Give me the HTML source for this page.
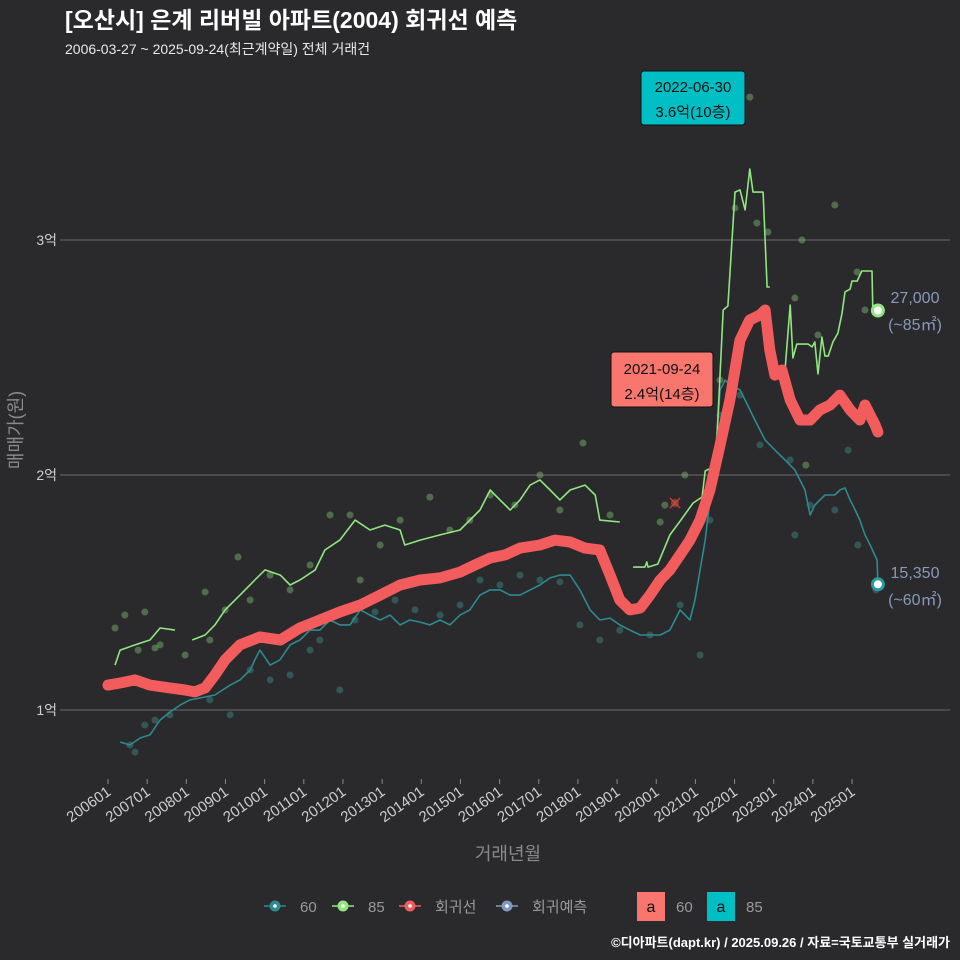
<!DOCTYPE html>
<html><head><meta charset="utf-8">
<style>
html,body{margin:0;padding:0;background:#2a2a2c;}
svg{display:block;font-family:"Liberation Sans","Noto Sans CJK KR",sans-serif;}
</style></head>
<body>
<svg id="chart" width="960" height="960" viewBox="0 0 960 960" xmlns="http://www.w3.org/2000/svg">
<rect x="0" y="0" width="960" height="960" fill="#2a2a2c"/>
<text x="65" y="28" fill="#ffffff" font-size="23" font-weight="bold">[오산시] 은계 리버빌 아파트(2004) 회귀선 예측</text>
<text x="65" y="54" fill="#e8e8e8" font-size="14">2006-03-27 ~ 2025-09-24(최근계약일) 전체 거래건</text>
<g id="grid"></g>
<g id="yaxis"></g>
<g id="xaxis"></g>
<g id="points"></g>
<g id="lines"></g>
<g id="annot"></g>
<text transform="translate(22,430) rotate(-90)" text-anchor="middle" fill="#8a8a8a" font-size="18">매매가(원)</text>
<text x="508" y="860" text-anchor="middle" fill="#8a8a8a" font-size="18">거래년월</text>
<g id="legend"></g>
<text x="950" y="947" text-anchor="end" fill="#ffffff" font-size="13" font-weight="bold">©디아파트(dapt.kr) / 2025.09.26 / 자료=국토교통부 실거래가</text>
</svg>
<script>
const yTicks=[10000,20000,30000];
const yTickLabels=["1억","2억","3억"];
const xTickYears=[2006,2007,2008,2009,2010,2011,2012,2013,2014,2015,2016,2017,2018,2019,2020,2021,2022,2023,2024,2025];
const xTickLabels=["200601","200701","200801","200901","201001","201101","201201","201301","201401","201501","201601","201701","201801","201901","202001","202101","202201","202301","202401","202501"];

const regDates=[2006.00,2006.31,2006.69,2007.07,2007.58,2007.97,2008.22,2008.48,2008.73,2008.99,2009.37,2009.88,2010.40,2010.90,2011.41,2011.92,2012.44,2012.95,2013.46,2013.97,2014.48,2014.99,2015.37,2015.76,2016.14,2016.52,2017.03,2017.41,2017.80,2018.18,2018.56,2018.82,2019.07,2019.33,2019.59,2019.84,2020.10,2020.35,2020.61,2020.86,2021.12,2021.37,2021.63,2021.88,2022.14,2022.39,2022.65,2022.78,2022.90,2023.03,2023.21,2023.42,2023.67,2023.93,2024.18,2024.44,2024.69,2024.95,2025.20,2025.33,2025.59,2025.66];
const regValues=[11060,11150,11280,11060,10940,10850,10770,10940,11490,12130,12770,13110,12980,13490,13830,14170,14470,14890,15320,15530,15620,15870,16170,16470,16600,16890,17020,17230,17150,16890,16810,15750,14680,14260,14340,14890,15530,15960,16600,17230,18090,19360,21280,23190,25740,26600,26810,27020,25320,24250,24470,23190,22340,22340,22770,22980,23400,22770,22340,22980,22130,21830];

const s85Dates=[2006.18,2006.31,2006.69,2007.07,2007.33,2007.71,null,2008.15,2008.48,2008.73,2008.99,2009.37,2009.75,2010.01,2010.40,2010.65,2010.90,2011.29,2011.54,2011.92,2012.31,2012.69,2013.07,2013.46,2013.58,2013.97,2014.48,2014.99,2015.50,2015.76,2016.01,2016.27,2016.52,2016.78,2017.03,2017.29,2017.54,2017.80,2018.18,2018.44,2018.56,2019.07,null,2019.41,2019.71,2019.76,2019.79,2020.04,2020.35,2020.61,2020.94,2021.17,2021.25,2021.45,2021.55,2021.71,2021.83,2022.01,2022.14,2022.27,2022.39,2022.47,2022.73,2022.83,2022.90,null,2023.29,2023.42,2023.49,2023.59,2023.88,2023.98,2024.05,2024.13,2024.23,2024.31,2024.39,2024.51,2024.64,2024.74,2024.82,2024.95,2025.00,2025.13,2025.25,2025.51,2025.53,2025.66];
const s85Values=[11910,12550,12770,12980,13490,13400,null,12980,13190,13620,14260,14890,15530,15960,15740,15320,15530,15960,16810,17230,18080,17660,17870,17660,17020,17230,17450,17660,18510,19360,18940,18510,18940,19570,19790,19360,18940,19360,19570,19150,18080,18000,null,16080,16080,16300,16080,16210,17450,18040,18810,19060,20170,20340,21530,27020,27190,32040,32130,31280,33020,32040,32040,28000,28000,null,24510,27230,24980,25570,25570,25450,25660,24300,25870,25060,25060,25660,26040,26850,27790,27910,28250,28250,28680,28680,27020,27000];

const s60Dates=[2006.31,2006.56,2006.82,2007.07,2007.33,2007.58,2007.84,2008.09,2008.35,2008.73,2009.12,2009.37,2009.63,2009.75,2009.88,2010.14,2010.39,2010.65,2010.90,2011.16,2011.41,2011.67,2011.92,2012.18,2012.44,2012.69,2012.95,2013.20,2013.46,2013.71,2013.97,2014.22,2014.48,2014.73,2014.99,2015.24,2015.50,2015.76,2016.01,2016.27,2016.52,2016.78,2017.03,2017.29,2017.54,2017.80,2018.05,2018.31,2018.56,2018.82,2019.07,2019.33,2019.59,2019.84,2020.10,2020.35,2020.61,2020.86,2020.99,2021.12,2021.25,2021.37,2021.50,2021.63,2021.76,2021.88,2022.14,2022.27,2022.52,2022.78,2023.03,2023.29,2023.54,2023.80,2023.93,2024.05,2024.31,2024.56,2024.69,2024.82,2024.95,2025.08,2025.20,2025.33,2025.46,2025.64,2025.66];
const s60Values=[8640,8510,8810,8940,9570,9910,10210,10430,10510,10640,11060,11280,11700,12130,12550,11910,12130,12770,12980,13400,13400,13830,13620,13620,14260,14040,13830,14040,13620,13830,13740,13620,13830,13620,14040,14260,14890,15110,15110,14890,14890,15110,15320,15620,15740,15740,15110,14260,13830,13910,13620,13400,13190,13190,13190,13400,14260,13830,14680,15960,17230,18940,20640,23620,24040,23830,23620,23190,22340,21490,21060,20640,20210,19360,18300,18720,19150,19150,19360,19450,18940,18510,18080,17450,17020,16380,15350];

const pt85Dates=[2006.18,2006.43,2006.77,2006.94,2007.20,2007.33,2007.97,2008.48,2008.60,2008.99,2009.32,2009.63,2010.14,2010.65,2011.16,2011.67,2012.18,2012.44,2012.95,2013.46,2014.22,2014.73,2015.24,2015.76,2016.39,2017.03,2017.54,2018.13,2018.82,2020.10,2020.22,2020.73,2021.63,2022.01,2022.39,2022.57,2022.85,2023.54,2023.72,2023.82,2024.13,2024.56,2025.13,2025.33];
const pt85Values=[13490,14040,12550,14170,12640,12770,12340,15020,12980,14260,16510,14680,15740,15110,16170,18300,18300,15530,17020,18080,19060,17660,18080,19150,18720,20000,18510,21360,18300,18000,18720,20000,24040,31360,36080,30720,30340,27530,30000,20420,25960,31490,28640,27020];
const pt60Dates=[2006.56,2006.69,2006.94,2007.20,2007.58,2008.09,2008.60,2009.12,2009.63,2010.14,2010.65,2011.16,2011.41,2011.92,2012.31,2012.82,2013.33,2013.84,2014.48,2014.99,2015.50,2016.01,2016.52,2017.03,2017.54,2018.05,2018.56,2019.07,2019.84,2020.61,2021.12,2021.37,2021.63,2022.14,2022.65,2023.42,2023.54,2023.93,2024.56,2024.90,2025.15,2025.61];
const pt60Values=[8510,8210,9360,9570,9790,10850,10430,9790,11700,11280,11490,12550,12980,10850,13830,14170,14680,14260,14040,14470,15530,15320,15740,15530,15450,13620,12980,13400,13190,14470,12340,18080,22550,23400,21280,20640,17450,18720,18510,21060,17020,15110];

const NS='http://www.w3.org/2000/svg';
function X(t){return 108+(t-2006)*39.16;}
function Y(v){return 710-(v-10000)*0.0235;}
function mk(tag,attrs,parent){const e=document.createElementNS(NS,tag);for(const k in attrs)e.setAttribute(k,attrs[k]);parent.appendChild(e);return e;}

const grid=document.getElementById('grid'),yaxis=document.getElementById('yaxis'),xaxis=document.getElementById('xaxis');
yTicks.forEach((v,i)=>{
  const l=mk('line',{x1:65,x2:950,y1:Y(v),y2:Y(v),stroke:'#6a6a6a','stroke-width':1},grid);
  
  
  const t=mk('text',{x:57,y:Y(v)+5,'text-anchor':'end',fill:'#cfcfcf','font-size':14},yaxis);
  t.textContent=yTickLabels[i];
  
  
  const tk=mk('line',{x1:60,x2:65,y1:Y(v),y2:Y(v),stroke:'#6a6a6a'},yaxis);
  
  
});
xTickYears.forEach((yr,i)=>{
  const x=X(yr);
  const tk=mk('line',{x1:x,x2:x,y1:779,y2:784,stroke:'#8a8a8a'},xaxis);
  
  
  const t=mk('text',{x:x+4,y:794,'text-anchor':'end',fill:'#cfcfcf','font-size':15,transform:`rotate(-35 ${x+4} 794)`},xaxis);
  t.textContent=xTickLabels[i];
  
  
});

const pts=document.getElementById('points');
pt85Dates.forEach((d,i)=>{
  const c=mk('circle',{cx:X(d),cy:Y(pt85Values[i]),r:3.5,fill:'#7fbf70','fill-opacity':0.45},pts);
  
  
});
pt60Dates.forEach((d,i)=>{
  const c=mk('circle',{cx:X(d),cy:Y(pt60Values[i]),r:3.5,fill:'#3c8e8a','fill-opacity':0.45},pts);
  
  
});

function pathFrom(dates,vals){
  let d='',pen=false;
  dates.forEach((t,i)=>{
    if(t===null||vals[i]===null){pen=false;return;}
    d+=(pen?'L':'M')+X(t).toFixed(1)+','+Y(vals[i]).toFixed(1);pen=true;
  });
  return d;
}
const lines=document.getElementById('lines');
const l60=mk('path',{d:pathFrom(s60Dates,s60Values),fill:'none',stroke:'#2c8a90','stroke-width':1.6,'stroke-linejoin':'round'},lines);


const l85=mk('path',{d:pathFrom(s85Dates,s85Values),fill:'none',stroke:'#90e680','stroke-width':1.6,'stroke-linejoin':'round'},lines);


const lreg=mk('path',{d:pathFrom(regDates,regValues),fill:'none',stroke:'#f25c5c','stroke-width':11,'stroke-linejoin':'round','stroke-linecap':'round'},lines);



const an=document.getElementById('annot');
const e85=mk('circle',{cx:X(2025.66),cy:Y(27000),r:5.5,fill:'#ffffff',stroke:'#90e680','stroke-width':3},an);


const e60=mk('circle',{cx:X(2025.66),cy:Y(15350),r:5.5,fill:'#ffffff',stroke:'#2c9a9e','stroke-width':3},an);


</script>
<script>
(function(){
const an=document.getElementById('annot');
const NS='http://www.w3.org/2000/svg';
function mk(tag,attrs,parent){const e=document.createElementNS(NS,tag);for(const k in attrs)e.setAttribute(k,attrs[k]);parent.appendChild(e);return e;}
function txt(x,y,s,attrs,name){const t=mk('text',Object.assign({x:x,y:y},attrs),an);t.textContent=s;return t;}
txt(915,303,'27,000',{fill:'#8899bb','font-size':16,'text-anchor':'middle'},'end-label-85-price');
txt(915,330,'(~85㎡)',{fill:'#8899bb','font-size':16,'text-anchor':'middle'},'end-label-85-area');
txt(915,578,'15,350',{fill:'#8899bb','font-size':16,'text-anchor':'middle'},'end-label-60-price');
txt(915,605,'(~60㎡)',{fill:'#8899bb','font-size':16,'text-anchor':'middle'},'end-label-60-area');
const xm=mk('path',{d:'M670,498L680,508M680,498L670,508',stroke:'#e0302a','stroke-width':1.5},an);


const c=mk('circle',{cx:675,cy:503,r:4,fill:'#c45a4a','fill-opacity':0.5},an);


const b1=mk('rect',{x:611,y:352,width:102,height:55,rx:3,fill:'#f8766d',stroke:'#111','stroke-width':1},an);


txt(662,374,'2021-09-24',{fill:'#111','font-size':15,'text-anchor':'middle'},'annotation-2021-date');
txt(662,399,'2.4억(14층)',{fill:'#111','font-size':15,'text-anchor':'middle'},'annotation-2021-price');
const b2=mk('rect',{x:641,y:71,width:104,height:54,rx:3,fill:'#00bfc4',stroke:'#111','stroke-width':1},an);


txt(693,92,'2022-06-30',{fill:'#111','font-size':15,'text-anchor':'middle'},'annotation-2022-date');
txt(693,117,'3.6억(10층)',{fill:'#111','font-size':15,'text-anchor':'middle'},'annotation-2022-price');

const lg=document.getElementById('legend');
const items=[[275,'#2c8a90','60'],[343,'#90e680','85'],[410,'#f25c5c','회귀선'],[507,'#7f99c0','회귀예측']];
items.forEach(it=>{
  const g=mk('g',{},lg);
  
  
  mk('line',{x1:it[0]-11,x2:it[0]+11,y1:906,y2:906,stroke:it[1],'stroke-width':1.5},g);
  mk('circle',{cx:it[0],cy:906,r:5.5,fill:it[1]},g);
  mk('circle',{cx:it[0],cy:906,r:1.8,fill:'#fff'},g);
  const t=mk('text',{x:it[0]+25,y:912,fill:'#9a9a9a','font-size':15},g);
  t.textContent=it[2];
});
[[637,'#f8766d','60'],[707,'#00bfc4','85']].forEach(it=>{
  const g=mk('g',{},lg);
  
  
  mk('rect',{x:it[0],y:892,width:28,height:29,fill:it[1]},g);
  const a=mk('text',{x:it[0]+14,y:912,'text-anchor':'middle',fill:'#111','font-size':16},g);
  a.textContent='a';
  const t=mk('text',{x:it[0]+39,y:912,fill:'#9a9a9a','font-size':15},g);
  t.textContent=it[2];
});
})();
</script>
</body></html>
